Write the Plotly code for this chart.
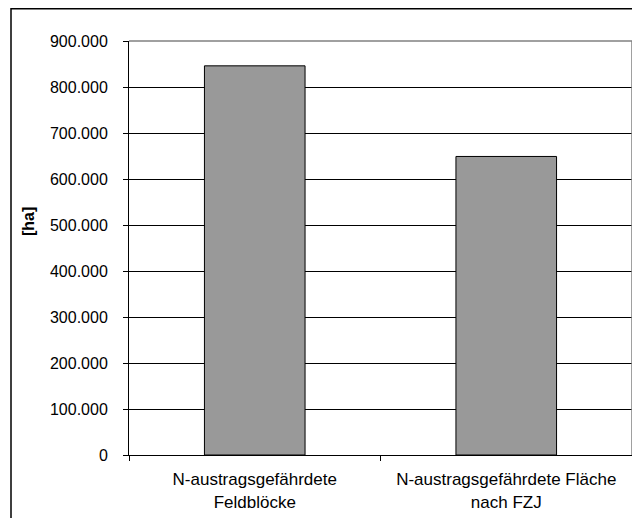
import plotly.graph_objects as go

categories = ["N-austragsgefährdete<br>Feldblöcke", "N-austragsgefährdete Fläche<br>nach FZJ"]
values = [846000, 649000]
y_tickvals = [0, 100000, 200000, 300000, 400000, 500000, 600000, 700000, 800000, 900000]
y_title = "[ha]"

# page has an 8px body margin; figure is sized to fit the window
OFF = 8
W, H = 640 - OFF, 518 - OFF
L, R, T, B = 129 - OFF, 8, 41 - OFF, 63
pw, ph = W - L - R, H - T - B

def px_x(x):  # page pixel -> paper x
    return (x - OFF - L) / pw

def px_y(y):  # page pixel -> paper y
    return (H - B - (y - OFF)) / ph

fig = go.Figure()
fig.add_trace(go.Bar(
    x=categories, y=values,
    marker=dict(color="#999999", line=dict(color="#000000", width=1)),
    width=0.4,
))

font = "Liberation Sans, Arial, sans-serif"
fig.update_layout(
    width=W, height=H,
    margin=dict(l=L, r=R, t=T, b=B),
    paper_bgcolor="white", plot_bgcolor="white",
    separators=",.",
    showlegend=False,
    font=dict(family=font, size=16, color="#000000"),
    xaxis=dict(
        type="category",
        showline=True, linecolor="#000000", linewidth=1,
        ticks="outside", tickson="boundaries", ticklen=5, tickcolor="#000000",
        ticklabelstandoff=9, automargin=False,
        showgrid=False, mirror=False,
        tickfont=dict(size=17),
    ),
    yaxis=dict(
        range=[0, 900000],
        tickvals=y_tickvals, tickformat=",d",
        showline=True, linecolor="#000000", linewidth=1,
        ticks="outside", ticklen=5, tickcolor="#000000",
        ticklabelstandoff=12, automargin=False,
        showgrid=True, gridcolor="#000000", gridwidth=1,
        zeroline=False,
        tickfont=dict(size=16),
    ),
    shapes=[
        dict(type="line", xref="paper", yref="paper", x0=0, x1=1, y0=1, y1=1,
             line=dict(color="#808080", width=1.5)),
        dict(type="line", xref="paper", yref="paper", x0=1, x1=1, y0=0, y1=1,
             line=dict(color="#808080", width=1.5)),
        dict(type="rect", xref="paper", yref="paper",
             x0=px_x(11), x1=px_x(660), y0=px_y(540), y1=px_y(8.8),
             line=dict(color="#000000", width=1.5), fillcolor="rgba(0,0,0,0)"),
    ],
    annotations=[
        dict(text="<b>" + y_title + "</b>", xref="paper", yref="paper",
             x=px_x(28), y=px_y(222), xanchor="center", yanchor="middle",
             textangle=-90, showarrow=False, font=dict(size=16, family=font)),
    ],
)

fig.write_html("out.html")
